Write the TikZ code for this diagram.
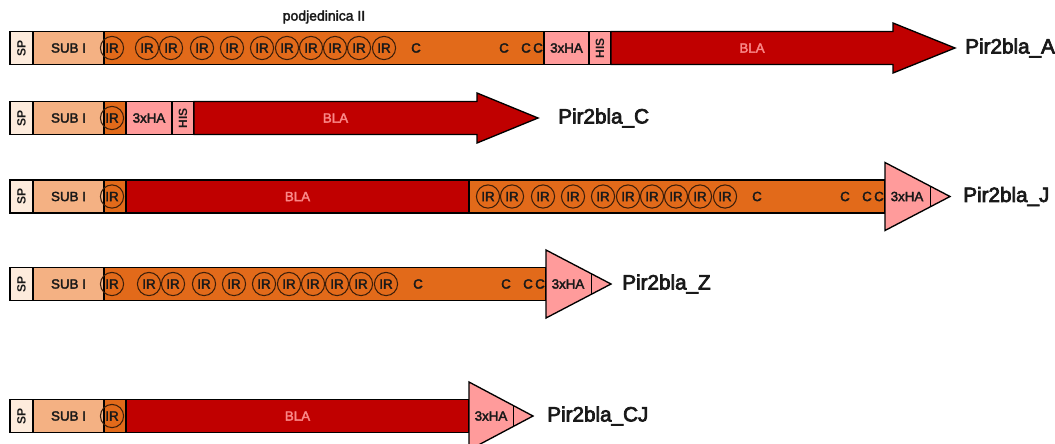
\documentclass[tikz,border=0pt]{standalone}
\usepackage{fontspec}
\setmainfont{Liberation Sans}
\newfontfamily\heavy[FakeBold=2.5]{Liberation Sans}
\newfontfamily\heavier[FakeBold=3.5]{Liberation Sans}
\usetikzlibrary{positioning}

\definecolor{spcol}{RGB}{253,235,220}
\definecolor{subcol}{RGB}{244,177,131}
\definecolor{ircol}{RGB}{226,106,26}
\definecolor{blacol}{RGB}{192,0,0}
\definecolor{hacol}{RGB}{255,155,155}
\definecolor{blatxt}{RGB}{250,135,135}
\definecolor{irline}{RGB}{60,30,10}
\definecolor{txtcol}{RGB}{25,25,25}

\tikzset{
  segbox/.style={draw=black, line width=1pt, line join=miter},
  sppart/.style={segbox, fill=spcol},
  subpart/.style={segbox, fill=subcol},
  irpart/.style={segbox, fill=ircol},
  blapart/.style={segbox, fill=blacol},
  hapart/.style={segbox, fill=hacol},
  lbl/.style={text=txtcol, font=\heavy\fontsize{10}{10}\selectfont},
  vlbl/.style={text=txtcol, font=\bfseries\fontsize{9}{9}\selectfont, rotate=90},
  irc/.style={circle, draw=irline, line width=0.8pt, minimum size=17.4pt, text=txtcol, font=\heavy\fontsize{10}{10}\selectfont},
  cys/.style={text=txtcol, font=\heavy\fontsize{10}{10}\selectfont},
  blalbl/.style={lbl, text=blatxt},
  cname/.style={anchor=west, text=txtcol, font=\heavier\fontsize{15.5}{16}\selectfont},
}

% SP and SUB I at the start of each row
\newcommand{\leadin}[2]{%
  \draw[sppart] (10,#1+16.5) rectangle (33,#1-16.5);
  \node[vlbl] (#2-sp) at (21.5,#1) {SP};
  \draw[subpart] (33,#1+16.5) rectangle (104,#1-16.5);
  \node[lbl] (#2-sub) at (68.5,#1) {SUB I};
  \node[irc] (#2-ir0) at (112,#1) {IR};
}
% IR repeats and cysteines of podjedinica II
\newcommand{\irrun}[3]{%
  \foreach \d/\k in {19/1,43/2,74/3,104/4,134/5,159/6,183/7,207/8,231/9,256/10}
    \node[irc] (#3-ir\k) at (#1+\d,#2) {IR};
  \foreach \d/\k in {288/1,376/2,398/3,410/4}
    \node[cys] (#3-c\k) at (#1+\d,#2) {C};
}
% 3xHA tag as arrow head
\newcommand{\hahead}[4]{%
  \draw[hapart] (#1,#2+34) -- (#1+#3,#2) -- (#1,#2-34) -- cycle;
  \draw[line width=0.75pt] (#1+#3-20,#2+10.5) -- (#1+#3-20,#2-10.5);
  \node[lbl] (#4-ha) at (#1+22,#2) {3xHA};
}

\begin{document}
\begin{tikzpicture}[x=0.75pt,y=0.75pt]
\tikzstyle{every node}+=[inner sep=0pt]
\useasboundingbox (0,0) rectangle (1055,-443);

\node[text=txtcol, font=\heavy\fontsize{10.5}{11}\selectfont] (sub2) at (324,-17) {podjedinica II};

% Pir2bla_A
\draw[irpart] (104,-31.5) rectangle (544,-64.5);
\leadin{-48}{a}
\irrun{128}{-48}{a}
\draw[hapart] (544,-31.5) rectangle (589,-64.5);
\node[lbl] (a-ha) at (566.5,-48) {3xHA};
\draw[hapart] (589,-31.5) rectangle (611,-64.5);
\node[vlbl] (a-his) at (600,-48) {HIS};
\draw[blapart] (611,-31.5) -- (893,-31.5) -- (893,-23) -- (955,-48) -- (893,-73) -- (893,-64.5) -- (611,-64.5) -- cycle;
\node[blalbl] (a-bla) at (752,-48) {BLA};
\node[cname] (a-name) at (965,-48) {Pir2bla\_A};

% Pir2bla_C
\draw[irpart] (104,-101.5) rectangle (126,-134.5);
\leadin{-118}{c}
\draw[hapart] (126,-101.5) rectangle (172,-134.5);
\node[lbl] (c-ha) at (149,-118) {3xHA};
\draw[hapart] (172,-101.5) rectangle (194,-134.5);
\node[vlbl] (c-his) at (183,-118) {HIS};
\draw[blapart] (194,-101.5) -- (477,-101.5) -- (477,-93) -- (538,-118) -- (477,-143) -- (477,-134.5) -- (194,-134.5) -- cycle;
\node[blalbl] (c-bla) at (335.5,-118) {BLA};
\node[cname] (c-name) at (558,-118) {Pir2bla\_C};

% Pir2bla_J
\draw[irpart] (104,-180) rectangle (126,-213);
\leadin{-196.5}{j}
\draw[blapart] (126,-180) rectangle (469,-213);
\node[blalbl] (j-bla) at (297.5,-196.5) {BLA};
\draw[irpart] (469,-180) rectangle (885,-213);
\irrun{469}{-196.5}{j}
\hahead{885}{-196.5}{65}{j}
\node[cname] (j-name) at (963,-196.5) {Pir2bla\_J};

% Pir2bla_Z
\draw[irpart] (104,-267.5) rectangle (546,-300.5);
\leadin{-284}{z}
\irrun{130}{-284}{z}
\hahead{546}{-284}{65}{z}
\node[cname] (z-name) at (622,-284) {Pir2bla\_Z};

% Pir2bla_CJ
\draw[irpart] (104,-399.5) rectangle (126,-432.5);
\leadin{-416}{cj}
\draw[blapart] (126,-399.5) rectangle (469,-432.5);
\node[blalbl] (cj-bla) at (297.5,-416) {BLA};
\hahead{469}{-416}{64}{cj}
\node[cname] (cj-name) at (547,-416) {Pir2bla\_CJ};
\end{tikzpicture}
\end{document}
